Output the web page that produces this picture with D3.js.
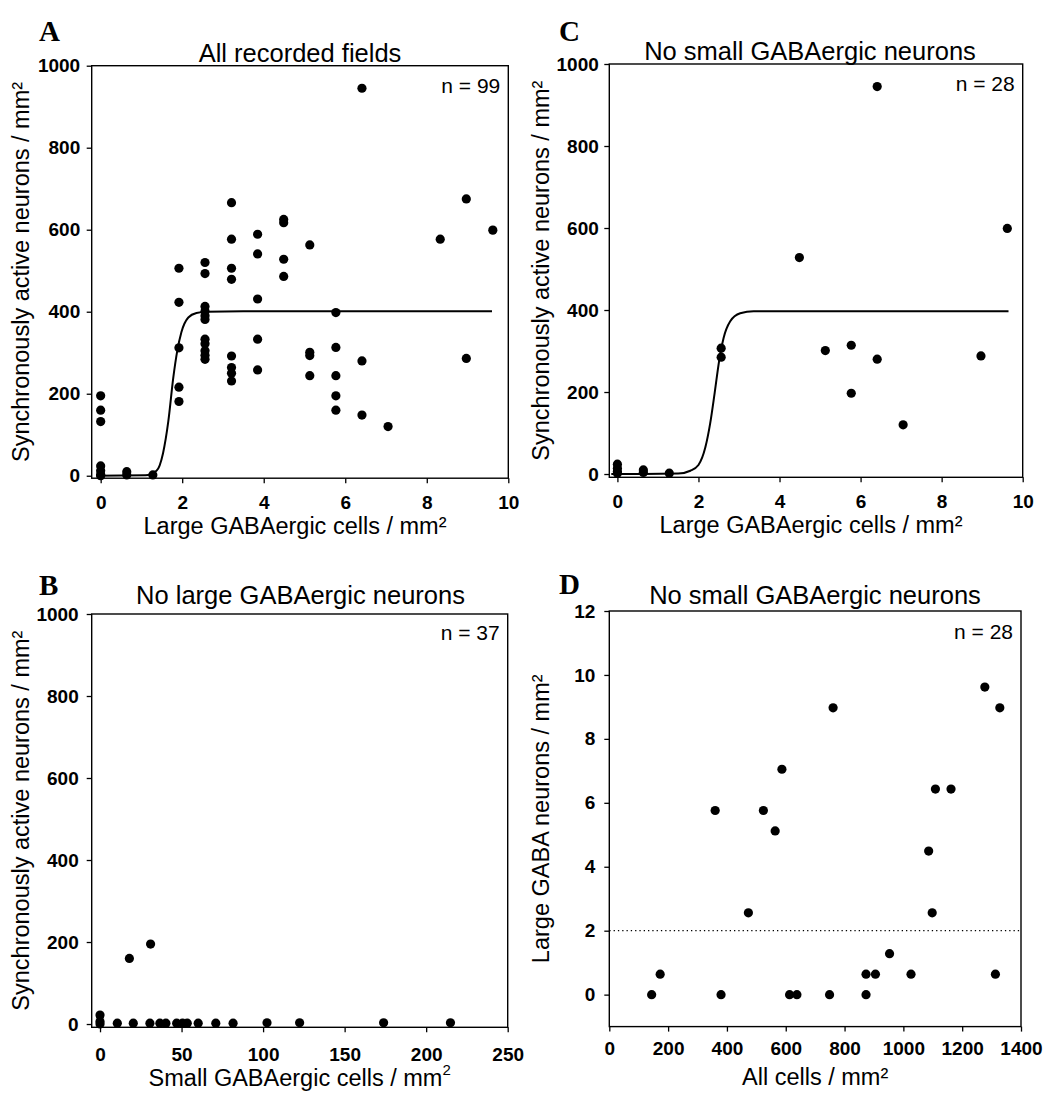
<!DOCTYPE html>
<html>
<head>
<meta charset="utf-8">
<script src="https://cdn.jsdelivr.net/npm/d3@7"></script>
<style>
  body { margin: 0; background: #fff; }
  svg { display: block; }
  text { font-family: "Liberation Sans", Arial, sans-serif; fill: #000; }
  .tick text { font-weight: bold; font-size: 19px; }
  .tick line { stroke: #000; stroke-width: 1.3; }
</style>
</head>
<body>
<svg id="chart" width="1046" height="1095"></svg>
<script>
// ---- Panel A: all recorded fields ----
const aLargeGaba = [0, 0, 0, 0, 0, 0, 0,
  0.64, 0.64, 1.28,
  1.92, 1.92, 1.92, 1.92, 1.92,
  2.56, 2.56, 2.56, 2.56, 2.56, 2.56, 2.56, 2.56, 2.56, 2.56, 2.56,
  3.21, 3.21, 3.21, 3.21, 3.21, 3.21, 3.21, 3.21,
  3.85, 3.85, 3.85, 3.85, 3.85,
  4.49, 4.49, 4.49, 4.49,
  5.13, 5.13, 5.13, 5.13,
  5.77, 5.77, 5.77, 5.77, 5.77,
  6.41, 6.41, 6.41,
  7.05, 8.33, 8.97, 8.97, 9.62];
const aActive = [195, 160, 132, 24, 12, 3, 0,
  10, 2, 2,
  506, 423, 312, 216, 181,
  520, 493, 413, 401, 390, 381, 333, 322, 305, 294, 284,
  666, 577, 506, 479, 292, 264, 250, 231,
  589, 541, 431, 333, 258,
  625, 617, 528, 486,
  563, 301, 293, 244,
  398, 313, 244, 195, 160,
  945, 280, 148,
  120, 577, 675, 286, 599];
// sigmoid fit traced along its path
const aFitX = [-0.1, 1.1, 1.37, 1.53, 1.66, 1.78, 1.88, 1.98, 2.15, 2.35, 2.6, 3.5, 9.6];
const aFitY = [0, 1, 12, 55, 133, 238, 305, 350, 386, 397, 400, 401, 401];

// ---- Panel C: fields without small GABAergic neurons ----
const cLargeGaba = [0, 0, 0, 0, 0.64, 0.64, 1.28, 2.56, 2.56, 4.49, 5.13, 5.77, 5.77, 6.41, 6.41, 7.05, 8.97, 9.62];
const cActive = [24, 14, 6, 2, 10, 4, 2, 307, 285, 528, 301, 314, 197, 945, 280, 120, 288, 599];
const cFitX = [-0.15, 1.5, 1.8, 2.0, 2.17, 2.29, 2.4, 2.51, 2.62, 2.78, 3.03, 3.36, 9.65];
const cFitY = [0, 1, 8, 22, 65, 124, 198, 276, 332, 372, 392, 397, 397];

// ---- Panel B: fields without large GABAergic neurons ----
const bSmallGaba = [0, 0, 0, 10.6, 20.4, 30.6, 36.7, 40.4, 47, 50.6, 53.5, 60.2, 71, 81.6, 102.4, 122.4, 173.9, 214.9, 18, 31];
const bActive = [22, 6, 0, 2, 2, 2, 2, 2, 2, 2, 2, 2, 2, 2, 3, 3, 3, 3, 160, 195];

// ---- Panel D: large GABA neurons vs all cells ----
const dAllCells = [360, 524, 587, 761, 1109, 1162, 1277, 1328, 564, 473, 1086, 1098, 953,
  173, 873, 905, 1026, 1313, 144, 380, 613, 638, 749, 873];
const dLargeGaba = [5.76, 5.76, 7.05, 8.97, 6.43, 6.43, 9.62, 8.97, 5.12, 2.56, 4.49, 2.56, 1.28,
  0.64, 0.64, 0.64, 0.64, 0.64, 0, 0, 0, 0, 0, 0];
const dThreshold = 2;

// ---- Tick values ----
const activeTicks = [0, 200, 400, 600, 800, 1000];
const largeTicks = [0, 2, 4, 6, 8, 10];
const smallTicks = [0, 50, 100, 150, 200, 250];
const allCellTicks = [0, 200, 400, 600, 800, 1000, 1200, 1400];
const dLargeTicks = [0, 2, 4, 6, 8, 10, 12];

const svg = d3.select("#chart");
svg.append("rect").attr("width", 1046).attr("height", 1095).attr("fill", "#fff");

const DOT_R = 4.6;
const fmt = d3.format("d");

function drawPanel(p) {
  const g = svg.append("g");
  const x = d3.scaleLinear().domain(p.xDomain).range([p.left, p.right]);
  const y = d3.scaleLinear().domain(p.yDomain).range([p.bottom, p.top]);

  // axes with outward ticks
  const xa = g.append("g").attr("transform", `translate(0,${p.bottom})`)
    .call(d3.axisBottom(x).tickValues(p.xTicks).tickFormat(fmt)
      .tickSize(5).tickSizeOuter(0).tickPadding(p.xPad));
  xa.select(".domain").remove();
  const ya = g.append("g").attr("transform", `translate(${p.left},0)`)
    .call(d3.axisLeft(y).tickValues(p.yTicks).tickFormat(fmt)
      .tickSize(5).tickSizeOuter(0).tickPadding(p.yPad));
  ya.select(".domain").remove();
  g.selectAll(".tick text").attr("font-family", null).attr("font-size", null);

  // frame
  g.append("rect")
    .attr("x", p.left).attr("y", p.top)
    .attr("width", p.right - p.left).attr("height", p.bottom - p.top)
    .attr("fill", "none").attr("stroke", "#000").attr("stroke-width", 1.4);

  if (p.refY !== undefined) {
    g.append("line")
      .attr("x1", x(p.xDomain[0])).attr("x2", x(p.xDomain[1]))
      .attr("y1", y(p.refY)).attr("y2", y(p.refY))
      .attr("stroke", "#000").attr("stroke-width", 1.3)
      .attr("stroke-dasharray", "1.3,3");
  }

  if (p.fitX) {
    const line = d3.line().x(d => x(d[0])).y(d => y(d[1])).curve(d3.curveMonotoneX);
    g.append("path").datum(d3.zip(p.fitX, p.fitY))
      .attr("d", line).attr("fill", "none")
      .attr("stroke", "#000").attr("stroke-width", 2);
  }

  g.selectAll("circle.pt").data(d3.zip(p.xs, p.ys)).join("circle")
    .attr("class", "pt")
    .attr("cx", d => x(d[0])).attr("cy", d => y(d[1]))
    .attr("r", DOT_R).attr("fill", "#000");

  // panel letter
  g.append("text").attr("x", p.letterX).attr("y", p.letterY)
    .style("font-family", "'Liberation Serif','Times New Roman',serif")
    .attr("font-weight", "bold").attr("font-size", 29)
    .text(p.letter);

  // title
  g.append("text").attr("x", p.titleX).attr("y", p.titleY)
    .attr("text-anchor", "middle").attr("font-size", 25.5).text(p.title);

  // n label
  g.append("text").attr("x", p.right - 8).attr("y", p.nY)
    .attr("text-anchor", "end").attr("font-size", 21)
    .attr("xml:space", "preserve").text(p.nLabel);

  // x-axis title
  const xt = g.append("text").attr("x", (p.left + p.right) / 2 + p.xTitleDx).attr("y", p.xTitleY)
    .attr("text-anchor", "middle").attr("font-size", 23.5);
  if (p.xTitleSup) {
    xt.append("tspan").text(p.xTitle);
    xt.append("tspan").attr("font-size", 15).attr("dy", -11).text("2");
  } else {
    xt.text(p.xTitle);
  }

  // y-axis title
  g.append("text")
    .attr("transform", `translate(${p.yTitleX},${(p.top + p.bottom) / 2}) rotate(-90)`)
    .attr("text-anchor", "middle").attr("font-size", 23.5).text(p.yTitle);
}

drawPanel({
  letter: "A", letterX: 39, letterY: 41,
  title: "All recorded fields", titleX: 300, titleY: 61.5,
  nLabel: "n = 99", nY: 93,
  left: 91.7, right: 508.3, top: 65.7, bottom: 478.2,
  xDomain: [-0.22, 10], yDomain: [-6, 1000],
  xTicks: largeTicks, yTicks: activeTicks, xPad: 12, yPad: 6.5,
  xs: aLargeGaba, ys: aActive, fitX: aFitX, fitY: aFitY,
  xTitle: "Large GABAergic cells / mm²", xTitleY: 534, xTitleDx: -5,
  yTitle: "Synchronously active neurons / mm²", yTitleX: 29
});

drawPanel({
  letter: "C", letterX: 559, letterY: 41,
  title: "No small GABAergic neurons", titleX: 810, titleY: 60,
  nLabel: "n = 28", nY: 91,
  left: 609.3, right: 1022.7, top: 64, bottom: 477.3,
  xDomain: [-0.2, 10], yDomain: [-8, 1000],
  xTicks: largeTicks, yTicks: activeTicks, xPad: 12, yPad: 5.5,
  xs: cLargeGaba, ys: cActive, fitX: cFitX, fitY: cFitY,
  xTitle: "Large GABAergic cells / mm²", xTitleY: 533, xTitleDx: -5,
  yTitle: "Synchronously active neurons / mm²", yTitleX: 549
});

drawPanel({
  letter: "B", letterX: 39, letterY: 595,
  title: "No large GABAergic neurons", titleX: 300.5, titleY: 603.5,
  nLabel: "n = 37", nY: 639.5,
  left: 91.7, right: 507.7, top: 614, bottom: 1027.3,
  xDomain: [-5.1, 250], yDomain: [-8, 1000],
  xTicks: smallTicks, yTicks: activeTicks, xPad: 15, yPad: 8,
  xs: bSmallGaba, ys: bActive,
  xTitle: "Small GABAergic cells / mm", xTitleSup: true, xTitleY: 1086, xTitleDx: 0,
  yTitle: "Synchronously active neurons / mm²", yTitleX: 29
});

drawPanel({
  letter: "D", letterX: 559, letterY: 594,
  title: "No small GABAergic neurons", titleX: 815, titleY: 604,
  nLabel: "n = 28", nY: 638.5,
  left: 609.3, right: 1021, top: 611, bottom: 1026.6,
  xDomain: [0, 1400], yDomain: [-1, 12],
  xTicks: allCellTicks, yTicks: dLargeTicks, xPad: 10, yPad: 9,
  xs: dAllCells, ys: dLargeGaba, refY: dThreshold,
  xTitle: "All cells / mm²", xTitleY: 1085, xTitleDx: 0,
  yTitle: "Large GABA neurons / mm²", yTitleX: 549
});
</script>
</body>
</html>
